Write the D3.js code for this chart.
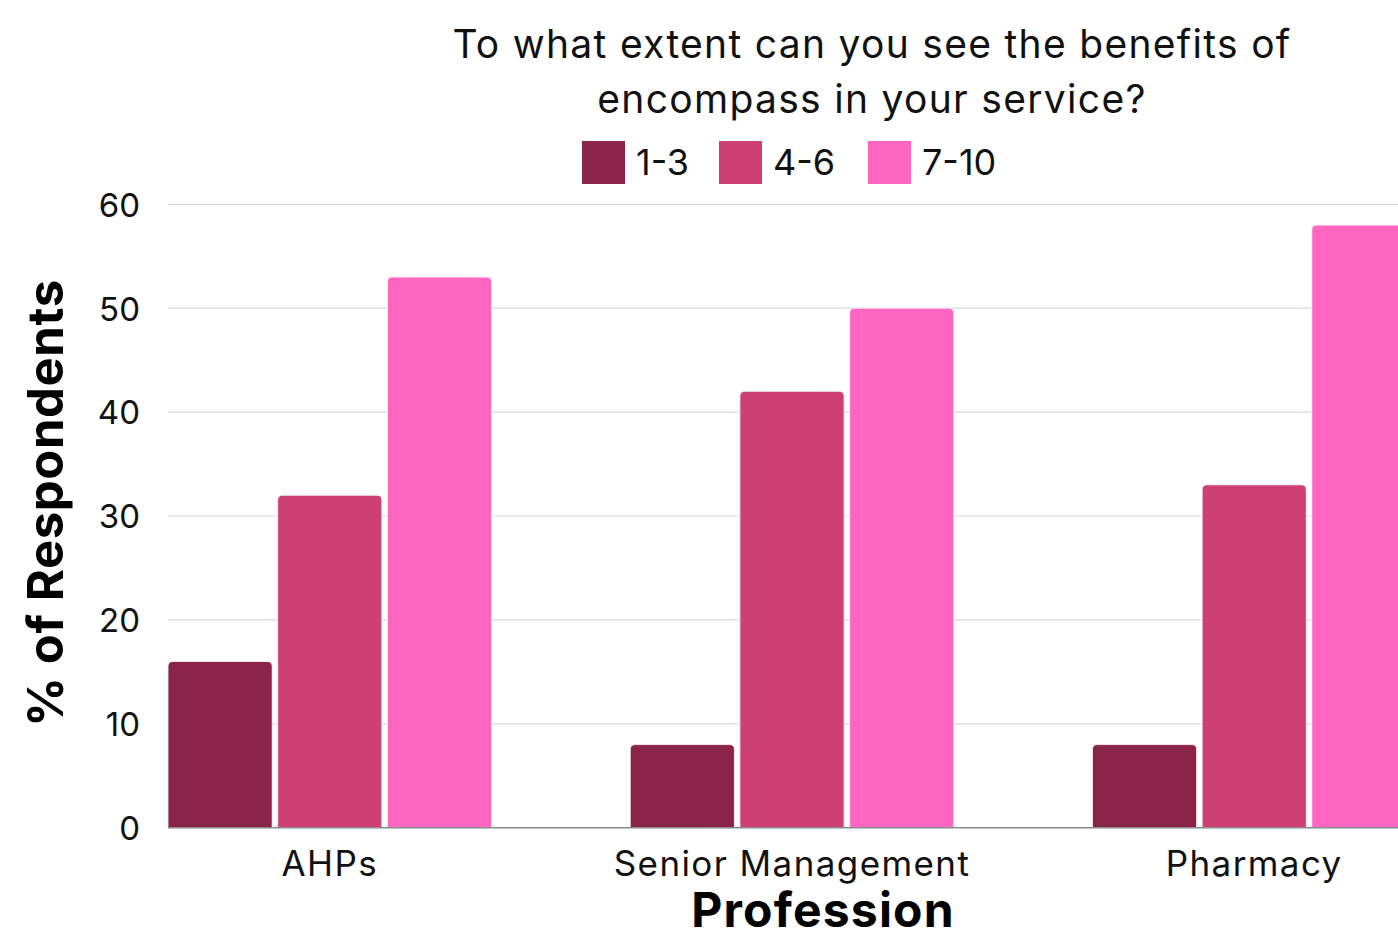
<!DOCTYPE html>
<html>
<head>
<meta charset="utf-8">
<script src="https://cdn.jsdelivr.net/npm/d3@7"></script>
<style>
  html, body { margin: 0; padding: 0; background: #fff; overflow: hidden; }
  svg { display: block; font-family: Inter, "Noto Sans", sans-serif; }
</style>
</head>
<body>
<svg id="chart" width="1398" height="934"></svg>
<script>
// Survey responses by profession, percentage of respondents per score band
const professions = ["AHPs", "Senior Management", "Pharmacy"];
const scoreBands = ["1-3", "4-6", "7-10"];
const band13 = [16, 8, 8];
const band46 = [32, 42, 33];
const band710 = [53, 50, 58];
const yTicks = [0, 10, 20, 30, 40, 50, 60];
const bandColors = ["#8a2549", "#ce3f74", "#ff66c2"];

const seriesValues = [band13, band46, band710];

const svg = d3.select("#chart");

const plot = { left: 168, right: 1416, top: 204.3, bottom: 827.7 };

const x0 = d3.scaleBand()
  .domain(professions)
  .range([plot.left, plot.right])
  .paddingInner(0.3)
  .paddingOuter(0);

const x1 = d3.scaleBand()
  .domain(scoreBands)
  .range([0, x0.bandwidth()])
  .paddingInner(0.05)
  .paddingOuter(0);

const y = d3.scaleLinear()
  .domain([0, 60])
  .range([plot.bottom, plot.top]);

const color = d3.scaleOrdinal().domain(scoreBands).range(bandColors);

// Horizontal gridlines
svg.append("g")
  .selectAll("line")
  .data(yTicks.filter(t => t > 0))
  .join("line")
  .attr("x1", plot.left)
  .attr("x2", 1398)
  .attr("y1", d => y(d))
  .attr("y2", d => y(d))
  .attr("stroke", "#d9d9d9")
  .attr("stroke-width", 1.2);

// Y axis tick labels
const yAxis = d3.axisLeft(y).tickValues(yTicks).tickSize(0).tickPadding(0);
const yg = svg.append("g")
  .attr("transform", `translate(${140},0)`)
  .call(yAxis);
yg.select(".domain").remove();
yg.selectAll("text")
  .attr("font-size", 33)
  .attr("fill", "#111")
  .attr("dy", "0.36em")
  .style("font-family", "Inter, sans-serif");

// Bars with slightly rounded top corners
function barPath(x, yTop, w, h, r) {
  r = Math.min(r, h, w / 2);
  return `M${x},${yTop + h}V${yTop + r}Q${x},${yTop} ${x + r},${yTop}` +
         `H${x + w - r}Q${x + w},${yTop} ${x + w},${yTop + r}V${yTop + h}Z`;
}

const rows = [];
professions.forEach((p, i) => {
  scoreBands.forEach((s, j) => {
    rows.push({ profession: p, band: s, value: seriesValues[j][i] });
  });
});

svg.append("g")
  .selectAll("path")
  .data(rows)
  .join("path")
  .attr("d", d => {
    const bx = x0(d.profession) + x1(d.band);
    const top = y(d.value);
    return barPath(bx, top, x1.bandwidth(), y(0) - top, 5);
  })
  .attr("fill", d => color(d.band))
  .attr("stroke", "#fff")
  .attr("stroke-width", 0.8);

// Baseline
svg.append("line")
  .attr("x1", plot.left)
  .attr("x2", 1398)
  .attr("y1", y(0))
  .attr("y2", y(0))
  .attr("stroke", "#8a8a8a")
  .attr("stroke-width", 1.5);

// X axis category labels
const xAxis = d3.axisBottom(x0).tickSize(0).tickPadding(0);
const xg = svg.append("g")
  .attr("transform", `translate(0,${876})`)
  .call(xAxis);
xg.select(".domain").remove();
xg.selectAll("text")
  .attr("font-size", 35)
  .attr("fill", "#111")
  .attr("dy", 0)
  .attr("letter-spacing", 1.4)
  .style("font-family", "Inter, sans-serif");

// Axis titles
svg.append("text")
  .attr("x", 823)
  .attr("y", 927)
  .attr("text-anchor", "middle")
  .attr("font-size", 48)
  .attr("font-weight", 700)
  .attr("letter-spacing", 1.2)
  .attr("fill", "#000")
  .text("Profession");

svg.append("text")
  .attr("transform", `translate(63,503) rotate(-90)`)
  .attr("text-anchor", "middle")
  .attr("font-size", 49)
  .attr("font-weight", 700)
  .attr("letter-spacing", 0.6)
  .attr("fill", "#000")
  .text("% of Respondents");

// Title
const title = svg.append("text")
  .attr("text-anchor", "middle")
  .attr("font-size", 39)
  .attr("letter-spacing", 1.3)
  .attr("fill", "#111");
title.append("tspan").attr("x", 872).attr("y", 58)
  .text("To what extent can you see the benefits of");
title.append("tspan").attr("x", 872).attr("y", 113)
  .text("encompass in your service?");

// Legend
const legendItems = [
  { band: "1-3", x: 582 },
  { band: "4-6", x: 719 },
  { band: "7-10", x: 868 }
];
const lg = svg.append("g");
const li = lg.selectAll("g")
  .data(legendItems)
  .join("g")
  .attr("transform", d => `translate(${d.x},141)`);
li.append("rect")
  .attr("width", 43)
  .attr("height", 43)
  .attr("fill", d => color(d.band));
li.append("text")
  .attr("x", 54)
  .attr("y", 34)
  .attr("font-size", 36)
  .attr("fill", "#111")
  .text(d => d.band);
</script>
</body>
</html>
